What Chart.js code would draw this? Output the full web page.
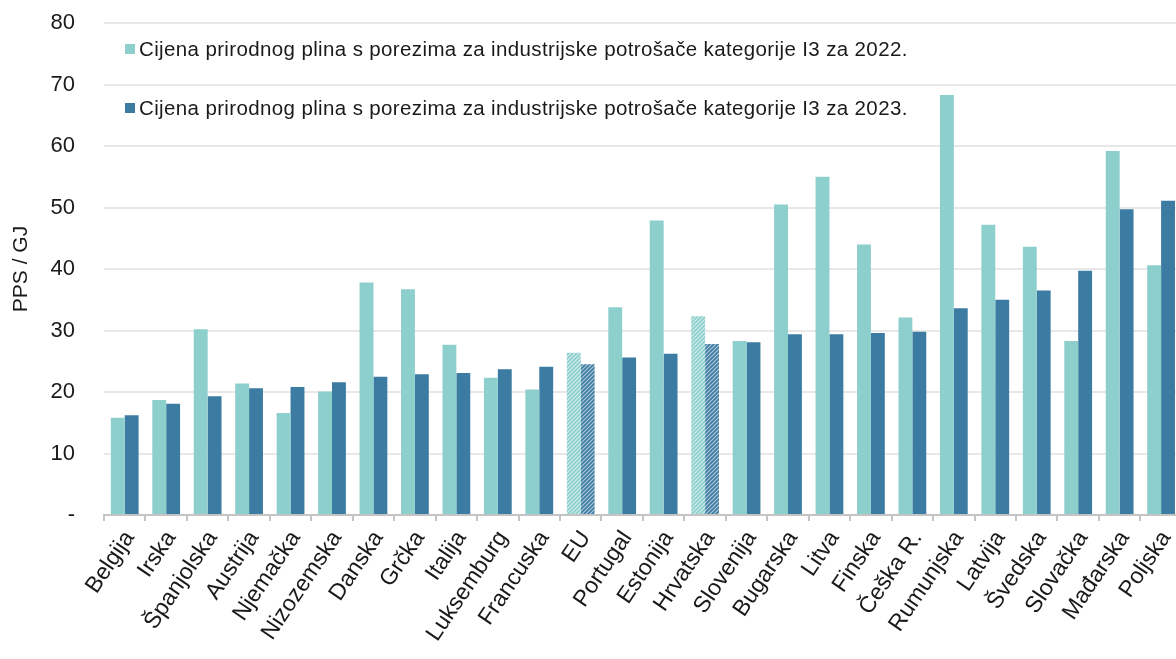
<!DOCTYPE html>
<html>
<head>
<meta charset="utf-8">
<script src="https://cdn.jsdelivr.net/npm/chart.js@4.4.1/dist/chart.umd.min.js"></script>
<style>
  html, body { margin: 0; padding: 0; background: #fff; overflow: hidden; }
  #wrap { position: absolute; left: 0; top: 0; width: 1189px; height: 659px; }
  .leg { position: absolute; left: 125px; height: 24px; display: flex; align-items: center;
         font-family: "Liberation Sans", Arial, sans-serif; font-size: 20.5px; letter-spacing: 0.37px;
         color: #1a1a1a; white-space: nowrap; }
  .leg span.box { display: inline-block; width: 10px; height: 10px; margin-right: 4px; }
</style>
</head>
<body>
<div id="wrap"><canvas id="plinChart"></canvas></div>
<div class="leg" style="top:37px"><span class="box" style="background:#8DCFCD"></span><span id="lt1"></span></div>
<div class="leg" style="top:96px"><span class="box" style="background:#3C7BA2"></span><span id="lt2"></span></div>
<script>
// kategorije (države) i cijene u PPS/GJ
var kategorije = ['Belgija', 'Irska', 'Španjolska', 'Austrija', 'Njemačka', 'Nizozemska', 'Danska', 'Grčka',
    'Italija', 'Luksemburg', 'Francuska', 'EU', 'Portugal', 'Estonija', 'Hrvatska', 'Slovenija', 'Bugarska',
    'Litva', 'Finska', 'Češka R.', 'Rumunjska', 'Latvija', 'Švedska', 'Slovačka', 'Mađarska', 'Poljska'];
var cijene2022 = [15.8, 18.7, 30.2, 21.4, 16.6, 20.1, 37.8, 36.7, 27.7, 22.3, 20.4, 26.4, 33.8, 47.9, 32.3, 28.3,
    50.5, 55.0, 44.0, 32.1, 68.3, 47.2, 43.6, 28.3, 59.2, 40.6];
var cijene2023 = [16.2, 18.1, 19.3, 20.6, 20.8, 21.6, 22.5, 22.9, 23.1, 23.7, 24.1, 24.5, 25.6, 26.2, 27.8, 28.1,
    29.4, 29.4, 29.6, 29.8, 33.6, 35.0, 36.5, 39.7, 49.7, 51.1];
var srafirano = ['EU', 'Hrvatska']; // šrafirani stupci
var naziv2022 = 'Cijena prirodnog plina s porezima za industrijske potrošače kategorije I3 za 2022.';
var naziv2023 = 'Cijena prirodnog plina s porezima za industrijske potrošače kategorije I3 za 2023.';

var svijetla = '#8DCFCD';
var tamna = '#3C7BA2';

document.getElementById('lt1').textContent = naziv2022;
document.getElementById('lt2').textContent = naziv2023;

var ctx = document.getElementById('plinChart').getContext('2d');

// uzorak dijagonalnih crta
function napraviUzorak(boja) {
    var c = document.createElement('canvas');
    c.width = 4; c.height = 4;
    var x = c.getContext('2d');
    x.fillStyle = boja;
    x.fillRect(0, 0, 4, 4);
    x.strokeStyle = 'rgba(255,255,255,0.6)';
    x.lineWidth = 1.2;
    x.beginPath();
    x.moveTo(-1, 5); x.lineTo(5, -1);
    x.moveTo(-3, 3); x.lineTo(3, -3);
    x.moveTo(1, 7); x.lineTo(7, 1);
    x.stroke();
    return ctx.createPattern(c, 'repeat');
}

var uzorakSv = napraviUzorak(svijetla);
var uzorakTa = napraviUzorak(tamna);

var bojeA = kategorije.map(k => srafirano.includes(k) ? uzorakSv : svijetla);
var bojeB = kategorije.map(k => srafirano.includes(k) ? uzorakTa : tamna);

var font = "'Liberation Sans', Arial, sans-serif";

var plinChart = new Chart(ctx, {
    type: 'bar',
    data: {
        labels: kategorije,
        datasets: [{
            label: naziv2022,
            data: cijene2022,
            backgroundColor: bojeA,
            borderWidth: 0
        }, {
            label: naziv2023,
            data: cijene2023,
            backgroundColor: bojeB,
            borderWidth: 0
        }]
    },
    options: {
        responsive: true,
        maintainAspectRatio: false,
        animation: false,
        layout: {
            padding: { top: 23, right: 1, left: 0, bottom: 0 }
        },
        plugins: {
            legend: { display: false },
            tooltip: { enabled: false }
        },
        datasets: {
            bar: { categoryPercentage: 0.67, barPercentage: 1.0 }
        },
        scales: {
            x: {
                grid: {
                    offset: true,
                    drawOnChartArea: false,
                    drawTicks: true,
                    tickLength: 6,
                    color: '#c4c4c4',
                    lineWidth: 2
                },
                border: { display: true, color: '#c4c4c4', width: 2 },
                ticks: {
                    autoSkip: false,
                    minRotation: 56,
                    maxRotation: 56,
                    labelOffset: 5,
                    color: '#1a1a1a',
                    font: { family: font, size: 23 },
                    padding: 5
                },
                afterFit: function (scale) { scale.height = 144; }
            },
            y: {
                min: 0,
                max: 80,
                grid: {
                    color: '#e8e8e8',
                    lineWidth: 2,
                    drawTicks: true,
                    tickLength: 27,
                    tickColor: 'rgba(0,0,0,0)'
                },
                border: { display: false },
                ticks: {
                    stepSize: 10,
                    padding: 2,
                    color: '#1a1a1a',
                    font: { family: font, size: 22 },
                    callback: function (v) { return v === 0 ? '-' : v; }
                },
                title: {
                    display: true,
                    text: 'PPS / GJ',
                    color: '#1a1a1a',
                    font: { family: font, size: 21 },
                    padding: { top: 9, bottom: 0 }
                },
                afterFit: function (scale) { scale.width = 104; }
            }
        }
    }
});
</script>
</body>
</html>
